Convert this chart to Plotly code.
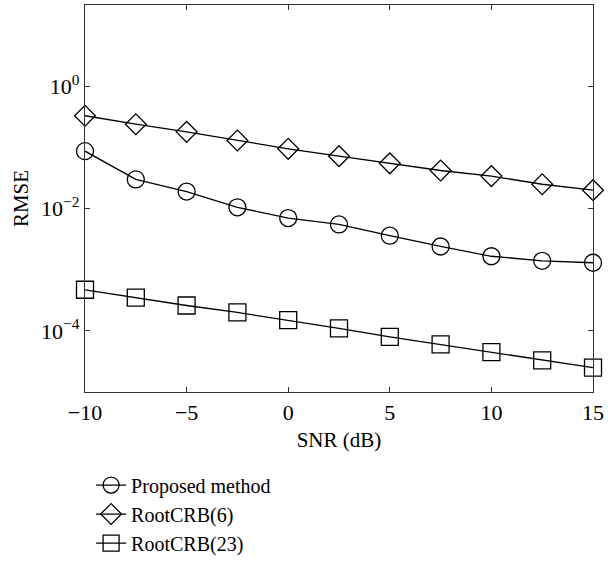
import plotly.graph_objects as go

snr = [-10, -7.5, -5, -2.5, 0, 2.5, 5, 7.5, 10, 12.5, 15]
proposed = [0.087, 0.030, 0.019, 0.0105, 0.0070, 0.0055, 0.0036, 0.0024, 0.00166, 0.0014, 0.0013]
crb6 = [0.33, 0.24, 0.18, 0.13, 0.095, 0.072, 0.055, 0.042, 0.034, 0.025, 0.020]
crb23 = [0.00047, 0.00035, 0.00026, 0.00020, 0.00015, 0.00011, 0.00008, 0.000060, 0.000045, 0.000033, 0.000025]

x_ticks = [-10, -5, 0, 5, 10, 15]
x_ticktext = ["\u221210", "\u22125", "0", "5", "10", "15"]
y_ticks = [1, 1e-2, 1e-4]
y_ticktext = ["10<sup>0</sup>", "10<sup>\u22122</sup>", "10<sup>\u22124</sup>"]

font = "Liberation Serif"
fig = go.Figure()
series = [("Proposed method", proposed, "circle-open", 17),
          ("RootCRB(6)", crb6, "diamond-open", 16),
          ("RootCRB(23)", crb23, "square-open", 17)]
for name, ys, sym, sz in series:
    fig.add_trace(go.Scatter(
        x=snr, y=ys, name=name, mode="lines+markers",
        line=dict(color="black", width=1.3),
        marker=dict(symbol=sym, size=sz, color="black", line=dict(width=1.3, color="black")),
        cliponaxis=False,
    ))

axis_common = dict(showline=True, linecolor="#333", linewidth=1.3, mirror="ticks",
                   ticks="inside", ticklen=5, tickcolor="#333", showgrid=False, zeroline=False,
                   ticklabeloverflow="allow",
                   tickfont=dict(family=font, size=22, color="black"))
fig.update_layout(
    width=608, height=567,
    margin=dict(l=85, r=10, t=4, b=167),
    plot_bgcolor="white", paper_bgcolor="white",
    font=dict(family=font, size=20, color="black"),
    xaxis=dict(range=[-10, 15], tickvals=x_ticks, ticktext=x_ticktext,
               title=dict(text="SNR (dB)", font=dict(family=font, size=21), standoff=8),
               **axis_common),
    yaxis=dict(type="log", range=[-5, 1.33], tickvals=y_ticks, ticktext=y_ticktext,
               title=dict(text="RMSE", font=dict(family=font, size=21), standoff=6),
               **axis_common),
    legend=dict(x=0.012, y=-0.19, xanchor="left", yanchor="top", bgcolor="rgba(0,0,0,0)",
                font=dict(family=font, size=20), tracegroupgap=0, itemwidth=30),
    showlegend=True,
)
fig.write_html("out.html")
